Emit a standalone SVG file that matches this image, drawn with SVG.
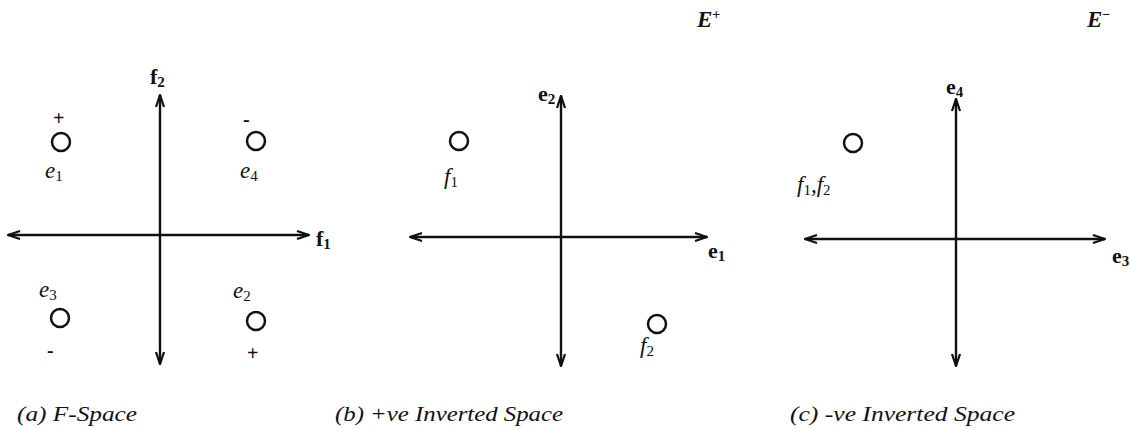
<svg xmlns="http://www.w3.org/2000/svg" width="1130" height="430" viewBox="0 0 1130 430">
<style>
.ax{stroke:#111;stroke-width:2.4;fill:none;marker-start:url(#ah);marker-end:url(#ah)}
.pt{stroke:#111;stroke-width:2.5;fill:none}
.it{font-family:"Liberation Serif","Times New Roman",serif;font-style:italic;font-size:23px;fill:#111}
.bd{font-family:"Liberation Serif","Times New Roman",serif;font-weight:bold;font-size:22px;fill:#111}
.sb{font-size:15px;font-style:normal}
.sg{font-family:"Liberation Serif","Times New Roman",serif;font-weight:bold;font-size:20px;fill:#111}
.cap{font-family:"Liberation Serif","Times New Roman",serif;font-style:italic;font-size:22px;fill:#111}
</style>
<defs>
<marker id="ah" viewBox="0 0 14 10" refX="13" refY="5" markerWidth="14" markerHeight="10" markerUnits="userSpaceOnUse" orient="auto-start-reverse">
<path d="M1,1 L13,5 L1,9" fill="none" stroke="#111" stroke-width="2.2"/>
</marker>
</defs>
<g id="connectors">
<line class="ax" x1="160" y1="364" x2="160" y2="95"/>
<line class="ax" x1="8" y1="235" x2="309" y2="235"/>
<line class="ax" x1="561" y1="366" x2="561" y2="96"/>
<line class="ax" x1="410" y1="237" x2="707" y2="237"/>
<line class="ax" x1="956" y1="366" x2="956" y2="99"/>
<line class="ax" x1="805" y1="239" x2="1105" y2="239"/>
</g>
<g id="panel-a">
<text class="bd" x="150" y="84">f<tspan class="sb" dy="3">2</tspan></text>
<text class="bd" x="316" y="246">f<tspan class="sb" dy="3">1</tspan></text>
<g id="e1"><circle class="pt" cx="61" cy="142" r="9"/><text class="sg" x="53" y="125">+</text><text class="it" x="45" y="178">e<tspan class="sb" dy="3">1</tspan></text></g>
<g id="e4"><circle class="pt" cx="256" cy="141" r="9"/><text class="sg" x="243" y="126">-</text><text class="it" x="240" y="178">e<tspan class="sb" dy="3">4</tspan></text></g>
<g id="e3"><circle class="pt" cx="60" cy="318" r="9"/><text class="sg" x="47" y="357">-</text><text class="it" x="39" y="297">e<tspan class="sb" dy="3">3</tspan></text></g>
<g id="e2"><circle class="pt" cx="256" cy="321" r="9"/><text class="sg" x="247" y="360">+</text><text class="it" x="233" y="298">e<tspan class="sb" dy="3">2</tspan></text></g>
<text class="cap" x="17" y="421" textLength="120" lengthAdjust="spacingAndGlyphs">(a) F-Space</text>
</g>
<g id="panel-b">
<text class="it" x="697" y="27" font-weight="bold">E<tspan font-size="14" dy="-8" font-style="normal">+</tspan></text>
<text class="bd" x="538" y="101">e<tspan class="sb" dy="3">2</tspan></text>
<text class="bd" x="708" y="258">e<tspan class="sb" dy="3">1</tspan></text>
<g id="f1b"><circle class="pt" cx="459" cy="141" r="9"/><text class="it" x="444" y="184">f<tspan class="sb" dy="3">1</tspan></text></g>
<g id="f2b"><circle class="pt" cx="657" cy="324" r="9"/><text class="it" x="640" y="353">f<tspan class="sb" dy="3">2</tspan></text></g>
<text class="cap" x="335" y="421" textLength="228" lengthAdjust="spacingAndGlyphs">(b) +ve Inverted Space</text>
</g>
<g id="panel-c">
<text class="it" x="1087" y="27" font-weight="bold">E<tspan font-size="14" dy="-8" font-style="normal">−</tspan></text>
<text class="bd" x="946" y="94">e<tspan class="sb" dy="3">4</tspan></text>
<text class="bd" x="1112" y="263">e<tspan class="sb" dy="3">3</tspan></text>
<g id="f12c"><circle class="pt" cx="853" cy="143" r="9"/><text class="it" x="797" y="192">f<tspan class="sb" dy="3">1</tspan><tspan dy="-3">,f</tspan><tspan class="sb" dy="3">2</tspan></text></g>
<text class="cap" x="790" y="421" textLength="225" lengthAdjust="spacingAndGlyphs">(c) -ve Inverted Space</text>
</g>
</svg>
